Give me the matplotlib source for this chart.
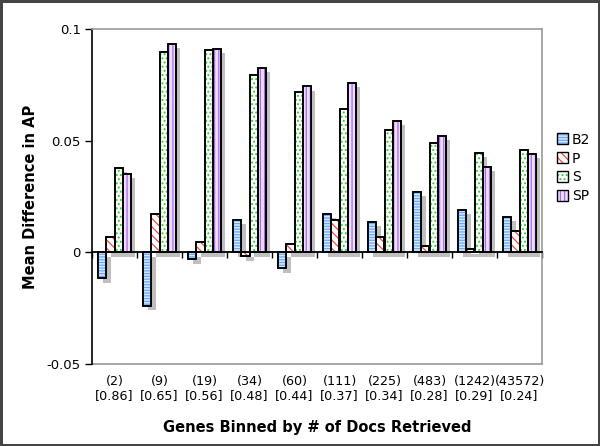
import matplotlib
matplotlib.use("Agg")
import matplotlib.pyplot as plt
import numpy as np
from matplotlib import patheffects as pe
from matplotlib.patches import Rectangle
from matplotlib.legend_handler import HandlerTuple

counts = ["(2)", "(9)", "(19)", "(34)", "(60)", "(111)", "(225)", "(483)", "(1242)", "(43572)"]
scores = ["[0.86]", "[0.65]", "[0.56]", "[0.48]", "[0.44]", "[0.37]", "[0.34]", "[0.28]", "[0.29]", "[0.24]"]
series_names = ["B2", "P", "S", "SP"]
B2 = [-0.0117, -0.024, -0.0032, 0.0144, -0.0072, 0.0173, 0.0135, 0.027, 0.019, 0.0158]
P = [0.0069, 0.017, 0.0046, -0.0018, 0.0036, 0.0144, 0.0069, 0.003, 0.0013, 0.0095]
S = [0.0378, 0.0895, 0.0905, 0.0796, 0.0716, 0.0644, 0.055, 0.049, 0.0446, 0.046]
SP = [0.035, 0.0934, 0.091, 0.0824, 0.0743, 0.076, 0.059, 0.052, 0.0384, 0.044]
yticks = [-0.05, 0, 0.05, 0.1]
ytick_labels = ["-0.05", "0", "0.05", "0.1"]

plt.rcParams['font.family'] = ['DejaVu Sans']
plt.rcParams['hatch.linewidth'] = 0.9

fig = plt.figure(figsize=(6, 4.46), dpi=100, linewidth=2.5, edgecolor='#444444')
ax = fig.add_axes([92/600, 1-364/446, 450/600, 335/446])

styles = [
    dict(face='#d4e9ff', hatch='------', hc='#6aa8f2'),
    dict(face='white', hatch='\\\\\\\\', hc='#f04a4a'),
    dict(face='white', hatch='....', hc='#2ecc2e'),
    dict(face='#eedcff', hatch='||||', hc='#a66be6'),
]
data = [B2, P, S, SP]
x = np.arange(len(counts))
w = 0.178
shadow = [pe.SimplePatchShadow(offset=(3, -3), shadow_rgbFace='#b0b0b0', alpha=0.8), pe.Normal()]
for i, (vals, st) in enumerate(zip(data, styles)):
    pos = x + (i - 1.5) * w
    ax.bar(pos, vals, w, facecolor=st['face'], edgecolor='black', linewidth=1.2,
           path_effects=shadow, zorder=2)
    ax.bar(pos, vals, w, facecolor='none', edgecolor=st['hc'], hatch=st['hatch'],
           linewidth=0, zorder=3)
    ax.bar(pos, vals, w, facecolor='none', edgecolor='black', linewidth=1.2, zorder=4)

ax.set_xlim(-0.5, len(counts) - 0.5)
ax.set_ylim(-0.05, 0.1)
ax.set_yticks(yticks)
ax.set_yticklabels(ytick_labels, fontsize=9.5)
ax.tick_params(axis='y', direction='out', length=5, width=1, color='black', pad=3)

for s in ['top', 'right']:
    ax.spines[s].set_color('#999999')
    ax.spines[s].set_linewidth(1.2)
ax.spines['left'].set_color('black')
ax.spines['left'].set_linewidth(1.2)
ax.spines['bottom'].set_position(('data', 0))
ax.spines['bottom'].set_color('black')
ax.spines['bottom'].set_linewidth(1.3)
ax.spines['bottom'].set_zorder(5)
ax.set_xticks(np.arange(len(counts) + 1) - 0.5)
ax.set_xticklabels([])
ax.tick_params(axis='x', direction='out', length=4, width=1, color='black')

sec = ax.secondary_xaxis(0.0)
sec.set_xticks(x)
sec.set_xticklabels([c + "\n" + s for c, s in zip(counts, scores)], fontsize=9.2, linespacing=1.05)
sec.tick_params(length=0, pad=8)
sec.spines['bottom'].set_color('#999999')
sec.spines['bottom'].set_linewidth(1.2)

sec.set_xlabel("Genes Binned by # of Docs Retrieved", fontsize=10.5, fontweight='bold', labelpad=13)
ax.set_ylabel("Mean Difference in AP", fontsize=10.5, fontweight='bold', labelpad=6)

leg_handles = []
for st in styles:
    base = Rectangle((0, 0), 1, 1, facecolor=st['face'], edgecolor='none', linewidth=0)
    hat = Rectangle((0, 0), 1, 1, facecolor='none', edgecolor=st['hc'], hatch=st['hatch'], linewidth=0)
    outl = Rectangle((0, 0), 1, 1, facecolor='none', edgecolor='black', linewidth=1.0)
    leg_handles.append((base, hat, outl))
leg = fig.legend(leg_handles, series_names, loc='center left',
                 bbox_to_anchor=(551/600, 1-168/446), frameon=False, fontsize=10,
                 handlelength=0.85, handleheight=0.85, handletextpad=0.25, labelspacing=0.35,
                 borderaxespad=0, handler_map={tuple: HandlerTuple(ndivide=1, pad=0)})

fig.savefig("out.png", dpi=100)
